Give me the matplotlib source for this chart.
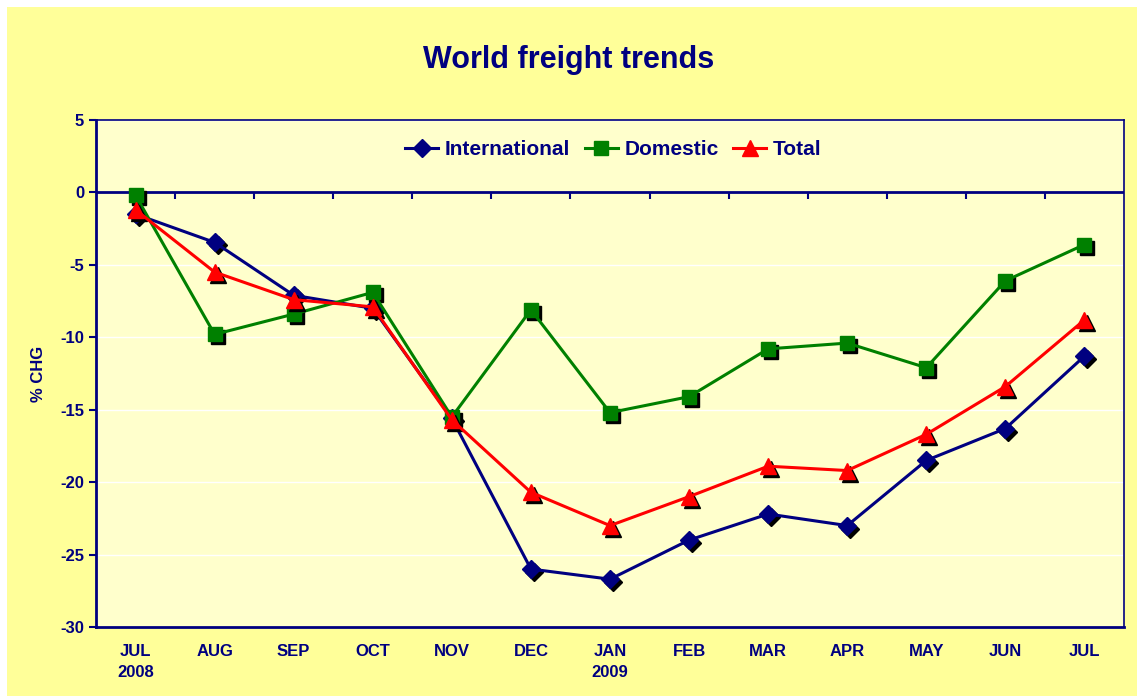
import numpy as np
import matplotlib
matplotlib.use("Agg")
import matplotlib.pyplot as plt
from matplotlib.transforms import offset_copy
from matplotlib.patches import Rectangle

months = ["JUL\n2008", "AUG", "SEP", "OCT", "NOV", "DEC", "JAN\n2009",
          "FEB", "MAR", "APR", "MAY", "JUN", "JUL"]
international = [-1.5, -3.45, -7.1, -8.0, -15.6, -26.0, -26.7, -24.0, -22.2, -23.0, -18.5, -16.3, -11.3]
domestic = [-0.2, -9.8, -8.4, -6.9, -15.5, -8.1, -15.2, -14.1, -10.8, -10.4, -12.1, -6.1, -3.6]
total = [-1.2, -5.5, -7.4, -7.9, -15.7, -20.7, -23.0, -21.0, -18.9, -19.2, -16.7, -13.4, -8.8]

navy = "#000080"
plt.rcParams['font.family'] = ['Liberation Sans', 'DejaVu Sans']
plt.rcParams['font.weight'] = 'bold'
plt.rcParams['axes.unicode_minus'] = False

fig = plt.figure(figsize=(11.37, 6.96), dpi=100, facecolor="white")
fig.patches.append(Rectangle((7/1137, 0), 1 - 7/1137, 1 - 7/696, transform=fig.transFigure,
                             facecolor="#FFFF99", edgecolor="none", zorder=-10))
ax = fig.add_axes([96/1137, 69/696, 1028/1137, 507/696])
ax.set_facecolor("#FFFFCC")

x = np.arange(len(months))
shadow = offset_copy(ax.transData, fig=fig, x=3, y=-3, units='dots')

series = [
    ("International", international, navy, "D", 9),
    ("Domestic", domestic, "#008000", "s", 10),
    ("Total", total, "#FF0000", "^", 11),
]
for i, (name, vals, col, mk, ms) in enumerate(series):
    ax.plot(x, vals, linestyle="none", marker=mk, markersize=ms, color="black",
            transform=shadow, zorder=3 + 2 * i)
    ax.plot(x, vals, color=col, linewidth=2.2, marker=mk, markersize=ms,
            markeredgecolor=col, label=name, zorder=4 + 2 * i)

ax.set_xlim(-0.5, len(months) - 0.5)
ax.set_ylim(-30, 5)
ax.set_yticks(np.arange(-30, 6, 5))
ax.yaxis.grid(True, color="white", linewidth=1)
ax.set_axisbelow(True)
ax.tick_params(axis='y', colors=navy, labelsize=12, length=5, width=1.5, direction='out')
ax.set_xticks(x)
ax.set_xticklabels(months, color=navy, fontsize=12, fontweight='bold', linespacing=1.5)
ax.tick_params(axis='x', length=0, pad=12)
for lab in ax.get_yticklabels():
    lab.set_fontweight('bold')

for side in ["left", "bottom"]:
    ax.spines[side].set_color(navy)
    ax.spines[side].set_linewidth(2)
for side in ["top", "right"]:
    ax.spines[side].set_color(navy)
    ax.spines[side].set_linewidth(1.2)

# category axis crossing at zero
ax.axhline(0, color=navy, linewidth=2, zorder=2.5)
sec = ax.secondary_xaxis(30 / 35)
sec.spines['bottom'].set_visible(False)
sec.spines['top'].set_visible(False)
sec.set_xticks(x[:-1] + 0.5)
sec.set_xticklabels([])
sec.tick_params(axis='x', length=5, width=1.5, colors=navy, direction='in',
                labeltop=False, labelbottom=False)

ax.set_ylabel("% CHG", color=navy, fontsize=12, fontweight='bold', labelpad=10)
fig.text(0.5, 1 - 60/696, "World freight trends", ha="center", va="center",
         color=navy, fontsize=22, fontweight="bold")

leg = ax.legend(loc="center", bbox_to_anchor=(0.503, 0.942), ncol=3, frameon=False,
                fontsize=15, handlelength=1.6, handletextpad=0.3, columnspacing=0.7)
for t in leg.get_texts():
    t.set_color(navy)
    t.set_fontweight('bold')

fig.savefig("out.png", dpi=100, facecolor=fig.get_facecolor())
